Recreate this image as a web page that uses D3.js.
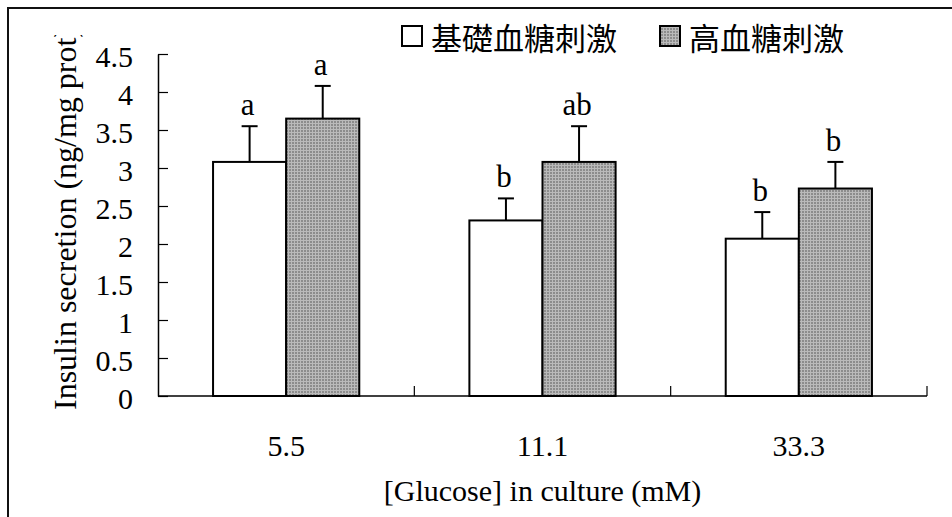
<!DOCTYPE html>
<html>
<head>
<meta charset="utf-8">
<script src="https://cdn.jsdelivr.net/npm/d3@7"></script>
<style>
  html, body { margin: 0; padding: 0; background: #fff; }
  svg { display: block; }
  .serif { font-family: "Liberation Serif", "DejaVu Serif", serif; fill: #000; }
  .cjk { font-family: "Noto Sans CJK TC", "Noto Sans CJK SC", sans-serif; fill: #000; }
</style>
</head>
<body>
<svg id="chart" width="952" height="517"></svg>
<script>
// Glucose concentrations in culture (mM)
const categories = ["5.5", "11.1", "33.3"];
// Series names (legend)
const seriesNames = ["基礎血糖刺激", "高血糖刺激"];
// Insulin secretion, basal glucose stimulation
const basalValues = [3.08, 2.31, 2.07];
const basalErrors = [0.47, 0.29, 0.35];
// Insulin secretion, high glucose stimulation
const highValues = [3.65, 3.08, 2.73];
const highErrors = [0.43, 0.47, 0.35];
// Significance letters
const basalLetters = ["a", "b", "b"];
const highLetters = ["a", "ab", "b"];
// Y axis ticks
const yTickValues = [0, 0.5, 1, 1.5, 2, 2.5, 3, 3.5, 4, 4.5];
const yTickLabels = ["0", "0.5", "1", "1.5", "2", "2.5", "3", "3.5", "4", "4.5"];

const svg = d3.select("#chart");

// Fine dithered grey fill for the high-glucose bars
const defs = svg.append("defs");
const pat = defs.append("pattern")
  .attr("id", "dither").attr("width", 3).attr("height", 3)
  .attr("patternUnits", "userSpaceOnUse");
pat.append("rect").attr("width", 3).attr("height", 3).attr("fill", "#8c8c8c");
pat.append("rect").attr("x", 0).attr("y", 0).attr("width", 3).attr("height", 1).attr("fill", "#bababa");
pat.append("rect").attr("x", 0).attr("y", 0).attr("width", 1).attr("height", 3).attr("fill", "#bababa");

defs.append("clipPath").attr("id", "titleClip")
  .append("rect").attr("x", 0).attr("y", 35).attr("width", 150).attr("height", 480);

// Outer frame (continues past the right and bottom edges)
svg.append("path")
  .attr("d", "M8,530 L8,8 L960,8")
  .attr("fill", "none").attr("stroke", "#111").attr("stroke-width", 2);

const plotLeft = 158, plotRight = 927, plotTop = 54, plotBottom = 396;

const x0 = d3.scaleBand().domain(categories).range([plotLeft, plotRight]).paddingInner(0).paddingOuter(0);
const x1 = d3.scaleBand().domain([0, 1]).range([0, x0.bandwidth()]).paddingInner(0).paddingOuter(0.753);
const y = d3.scaleLinear().domain([0, 4.5]).range([plotBottom, plotTop]);

// Y axis with inward ticks
const yAxis = d3.axisLeft(y).tickValues(yTickValues).tickSize(-10).tickSizeOuter(0)
  .tickFormat((d, i) => yTickLabels[i]);
const gy = svg.append("g").attr("transform", `translate(${plotLeft},0)`).call(yAxis);
gy.select(".domain").attr("stroke", "#000").attr("stroke-width", 1.5);
gy.selectAll(".tick line").attr("stroke", "#000").attr("stroke-width", 1.2);
gy.selectAll(".tick text")
  .attr("class", "serif").attr("font-size", 30)
  .attr("x", -25).attr("dy", "0.42em").attr("fill", "#000");

// X axis baseline and category separators
svg.append("line")
  .attr("x1", plotLeft).attr("x2", plotRight).attr("y1", plotBottom).attr("y2", plotBottom)
  .attr("stroke", "#000").attr("stroke-width", 1.5);
svg.selectAll(".sep").data(categories).enter().append("line")
  .attr("x1", d => x0(d) + x0.bandwidth()).attr("x2", d => x0(d) + x0.bandwidth())
  .attr("y1", plotBottom).attr("y2", plotBottom - 10)
  .attr("stroke", "#000").attr("stroke-width", 1.2);

svg.selectAll(".xlab").data(categories).enter().append("text")
  .attr("class", "serif").attr("font-size", 30)
  .attr("x", d => x0(d) + x0.bandwidth() / 2).attr("y", 456)
  .attr("text-anchor", "middle").text(d => d);

// Bars
const series = [
  { values: basalValues, errors: basalErrors, letters: basalLetters, fill: "#fff" },
  { values: highValues, errors: highErrors, letters: highLetters, fill: "url(#dither)" }
];

series.forEach((s, si) => {
  const g = svg.append("g");
  categories.forEach((c, ci) => {
    const v = s.values[ci], e = s.errors[ci];
    const bx = x0(c) + x1(si), bw = x1.bandwidth(), cx = bx + bw / 2;
    // error bar (upper only)
    g.append("line").attr("x1", cx).attr("x2", cx).attr("y1", y(v)).attr("y2", y(v + e))
      .attr("stroke", "#000").attr("stroke-width", 2);
    g.append("line").attr("x1", cx - 8).attr("x2", cx + 8).attr("y1", y(v + e)).attr("y2", y(v + e))
      .attr("stroke", "#000").attr("stroke-width", 2);
    g.append("rect").attr("x", bx).attr("y", y(v)).attr("width", bw).attr("height", y(0) - y(v))
      .attr("fill", s.fill).attr("stroke", "#000").attr("stroke-width", 2);
    g.append("text").attr("class", "serif").attr("font-size", 31)
      .attr("x", cx - 2).attr("y", y(v + e) - 11).attr("text-anchor", "middle")
      .text(s.letters[ci]);
  });
});

// Axis titles
svg.append("text").attr("class", "serif").attr("font-size", 30)
  .attr("x", (plotLeft + plotRight) / 2).attr("y", 501).attr("text-anchor", "middle")
  .text("[Glucose] in culture (mM)");

svg.append("g").attr("clip-path", "url(#titleClip)")
  .append("text").attr("class", "serif").attr("font-size", 32)
  .attr("transform", "translate(76,410) rotate(-90)")
  .attr("text-anchor", "start")
  .text("Insulin secretion (ng/mg prot)");

// Legend
const legendItems = [
  { x: 402, fill: "#fff" },
  { x: 660, fill: "url(#dither)" }
];
legendItems.forEach((d, i) => {
  svg.append("rect").attr("x", d.x).attr("y", 26).attr("width", 20).attr("height", 20)
    .attr("fill", d.fill).attr("stroke", "#000").attr("stroke-width", 2);
  svg.append("text").attr("class", "cjk").attr("font-size", 31)
    .attr("x", d.x + 29).attr("y", 50).text(seriesNames[i]);
});
</script>
</body>
</html>
